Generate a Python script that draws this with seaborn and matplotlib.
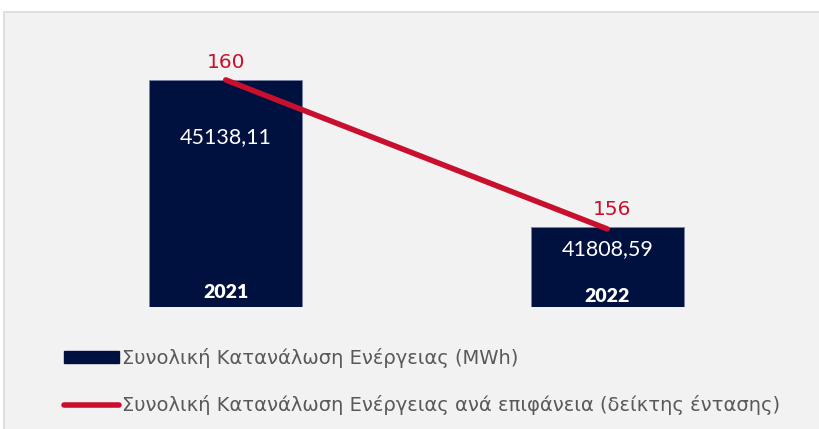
import numpy as np
import pandas as pd
import matplotlib.pyplot as plt
import seaborn as sns
from matplotlib.patches import Rectangle, Patch
from matplotlib.lines import Line2D

# Data
years = ["2021", "2022"]
energy_mwh = [45138.11, 41808.59]
intensity = [160, 156]

bar_label = "Συνολική Κατανάλωση Ενέργειας (MWh)"
line_label = "Συνολική Κατανάλωση Ενέργειας ανά επιφάνεια (δείκτης έντασης)"

NAVY = "#00103f"
RED = "#c8102e"
GREY_TXT = "#595959"

sns.set_theme(style="white")
plt.rcParams["font.family"] = ["DejaVu Sans"]

W, H = 819, 429
fig = plt.figure(figsize=(W / 100, H / 100), dpi=100, facecolor="white")

# light grey panel with a thin border
fig.patches.append(Rectangle((4 / W, -0.1), 1.1, (H - 12) / H + 0.1,
                             transform=fig.transFigure, facecolor="#f2f2f2",
                             edgecolor="#d9d9d9", linewidth=1.2, zorder=-5))

ax = fig.add_axes([35 / W, (H - 307) / H, (798 - 35) / W, (307 - 41.9) / H])
ax.set_facecolor("none")

df = pd.DataFrame({"year": years, "energy": energy_mwh, "intensity": intensity})

sns.barplot(data=df, x="year", y="energy", color=NAVY, width=0.4,
            edgecolor="#7a83a3", linewidth=0.6, saturation=1, ax=ax)
ax.set_ylim(40000, 46000)
ax.set_xlim(-0.5, 1.5)

ax2 = ax.twinx()
sns.lineplot(x=np.arange(len(years)), y=df["intensity"], color=RED,
             linewidth=4, solid_capstyle="round", ax=ax2)
ax2.set_ylim(153.906, 161.02)
ax2.set_xlim(-0.5, 1.5)

for a in (ax, ax2):
    a.set_axis_off()

# value labels inside bars
val_offsets = [-57, -22]
for i, v in enumerate(energy_mwh):
    ax.annotate(f"{v:.2f}".replace(".", ","), (i, v), xytext=(0, val_offsets[i]),
                textcoords="offset pixels", ha="center", va="center",
                color="white", fontsize=15.5, family=["Lato", "DejaVu Sans"])

# year labels at bottom of bars
year_offsets = [14, 10]
for i, y in enumerate(years):
    ax.annotate(y, (i, 40000), xytext=(0, year_offsets[i]),
                textcoords="offset pixels", ha="center", va="center",
                color="white", fontsize=14, fontweight="heavy",
                family=["Lato", "DejaVu Sans"])

# line labels
line_offsets = [(0, 17), (5, 19)]
for i, v in enumerate(intensity):
    ax2.annotate(str(v), (i, v), xytext=line_offsets[i],
                 textcoords="offset pixels", ha="center", va="center",
                 color=RED, fontsize=14.5)

handles = [Patch(facecolor=NAVY, edgecolor=NAVY),
           Line2D([0], [0], color=RED, linewidth=4, solid_capstyle="round")]
leg = fig.legend(handles, [bar_label, line_label], loc="upper left",
                 bbox_to_anchor=(64 / W, (H - 348) / H), frameon=False,
                 fontsize=14, labelcolor=GREY_TXT, handlelength=2.85,
                 handleheight=0.6, handletextpad=0.15, labelspacing=1.4,
                 borderpad=0, borderaxespad=0)

fig.savefig("out.png", dpi=100, facecolor="white")
